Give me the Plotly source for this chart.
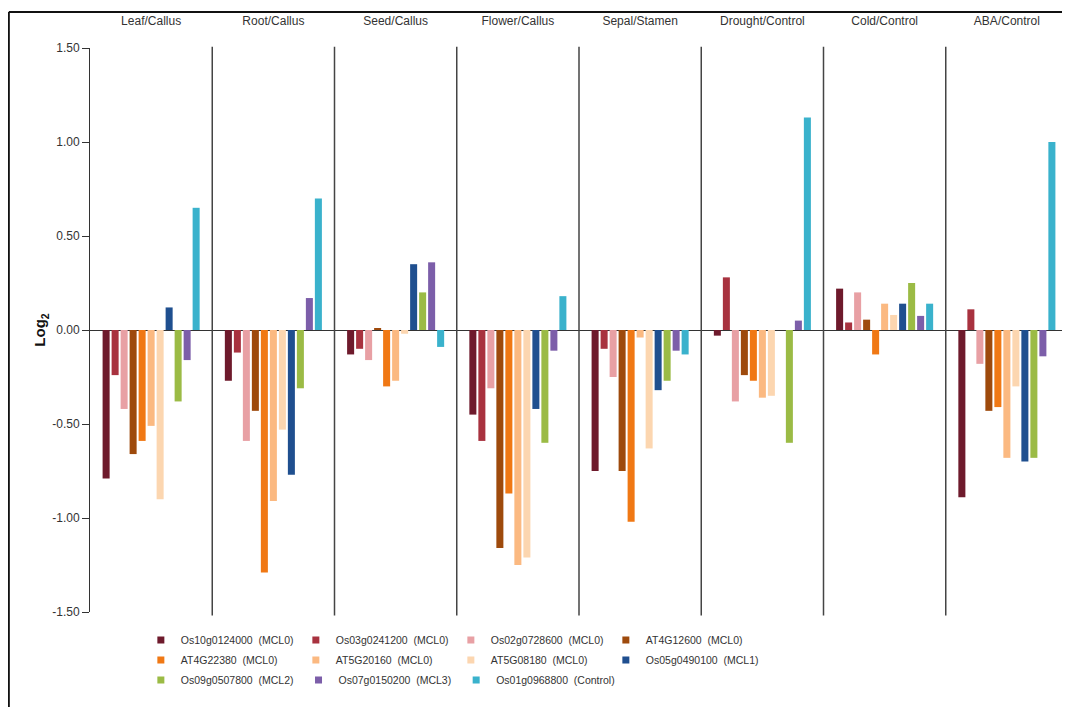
import plotly.graph_objects as go

panels = ["Leaf/Callus", "Root/Callus", "Seed/Callus", "Flower/Callus",
          "Sepal/Stamen", "Drought/Control", "Cold/Control", "ABA/Control"]

genes = ["Os10g0124000  (MCL0)", "Os03g0241200  (MCL0)", "Os02g0728600  (MCL0)",
         "AT4G12600  (MCL0)", "AT4G22380  (MCL0)", "AT5G20160  (MCL0)",
         "AT5G08180  (MCL0)", "Os05g0490100  (MCL1)", "Os09g0507800  (MCL2)",
         "Os07g0150200  (MCL3)", "Os01g0968800  (Control)"]

colors = ["#6e1a2c", "#a8323f", "#e8a0a4", "#9e4a0c", "#f07814", "#fbb981",
          "#fcd6b0", "#1f4f8f", "#9bbb45", "#7c5ea9", "#3ab2cc"]

# values per gene across the 8 panels
Os10g0124000 = [-0.79, -0.27, -0.13, -0.45, -0.75, -0.03, 0.22, -0.89]
Os03g0241200 = [-0.24, -0.12, -0.10, -0.59, -0.10, 0.28, 0.04, 0.11]
Os02g0728600 = [-0.42, -0.59, -0.16, -0.31, -0.25, -0.38, 0.20, -0.18]
AT4G12600 = [-0.66, -0.43, 0.01, -1.16, -0.75, -0.24, 0.055, -0.43]
AT4G22380 = [-0.59, -1.29, -0.30, -0.87, -1.02, -0.27, -0.13, -0.41]
AT5G20160 = [-0.51, -0.91, -0.27, -1.25, -0.04, -0.36, 0.14, -0.68]
AT5G08180 = [-0.90, -0.53, -0.02, -1.21, -0.63, -0.35, 0.08, -0.30]
Os05g0490100 = [0.12, -0.77, 0.35, -0.42, -0.32, 0.0, 0.14, -0.70]
Os09g0507800 = [-0.38, -0.31, 0.20, -0.60, -0.27, -0.60, 0.25, -0.68]
Os07g0150200 = [-0.16, 0.17, 0.36, -0.11, -0.11, 0.05, 0.075, -0.14]
Os01g0968800 = [0.65, 0.70, -0.09, 0.18, -0.13, 1.13, 0.14, 1.00]

series = [Os10g0124000, Os03g0241200, Os02g0728600, AT4G12600, AT4G22380,
          AT5G20160, AT5G08180, Os05g0490100, Os09g0507800, Os07g0150200,
          Os01g0968800]

y_ticks = [1.5, 1.0, 0.5, 0.0, -0.5, -1.0, -1.5]
y_ticklabels = ["1.50", "1.00", "0.50", "0.00", "-0.50", "-1.00", "-1.50"]

FONT = "Liberation Sans, Arial, sans-serif"

fig = go.Figure()
for name, vals, col in zip(genes, series, colors):
    fig.add_trace(go.Bar(x=panels, y=vals, name=name, marker_color=col,
                         marker_line_width=0, showlegend=False))

# legend entries split into three rows
legend_rows = ["legend", "legend2", "legend3"]
for i, (name, col) in enumerate(zip(genes, colors)):
    fig.add_trace(go.Scatter(x=[None], y=[None], mode="markers", name=name,
                             marker=dict(symbol="square", size=7, color=col),
                             legend=legend_rows[i // 4], showlegend=True))

shapes = []
for i in range(len(panels) - 1):
    shapes.append(dict(type="line", xref="x", yref="paper", x0=i + 0.5, x1=i + 0.5,
                       y0=-0.006, y1=1.002, line=dict(color="#444444", width=1.5)))
# outer frame (left and top)
shapes.append(dict(type="line", xref="paper", yref="paper", x0=-0.083, x1=1.01,
                   y0=1.0638, y1=1.0638, line=dict(color="#111111", width=2)))
shapes.append(dict(type="line", xref="paper", yref="paper", x0=-0.083, x1=-0.083,
                   y0=-0.2, y1=1.0638, line=dict(color="#111111", width=2)))

leg_common = dict(orientation="h", xanchor="left", yanchor="middle",
                  itemwidth=30,
                  font=dict(family=FONT, size=10.5, color="#333333"),
                  bgcolor="rgba(0,0,0,0)", tracegroupgap=0, itemclick=False)

fig.update_layout(
    width=1062, height=699,
    margin=dict(l=82, r=2, t=40, b=95, autoexpand=False),
    plot_bgcolor="white", paper_bgcolor="white",
    barmode="group", bargap=0.19, bargroupgap=0.22,
    font=dict(family=FONT, size=12, color="#333333"),
    shapes=shapes,
    legend=dict(x=0.052, y=-0.0496, entrywidth=110, entrywidthmode="pixels", **leg_common),
    legend2=dict(x=0.052, y=-0.085, entrywidth=110, entrywidthmode="pixels", **leg_common),
    legend3=dict(x=0.052, y=-0.1205, **leg_common),
    xaxis=dict(side="top", showline=False, ticks="", showgrid=False,
               ticklabelstandoff=20, tickfont=dict(size=12, color="#333333"),
               range=[-0.5, 7.5]),
    yaxis=dict(range=[-1.5, 1.5], tickvals=y_ticks, ticktext=y_ticklabels,
               ticks="outside", ticklen=7, tickcolor="#333333", showline=True,
               linecolor="#333333", linewidth=1, showgrid=False,
               zeroline=True, zerolinecolor="#333333", zerolinewidth=1,
               tickfont=dict(size=12, color="#333333"),
               title=dict(text="<b>Log<sub>2</sub></b>", font=dict(size=15, color="#111111"),
                          standoff=2)),
)

fig.write_html("out.html")
